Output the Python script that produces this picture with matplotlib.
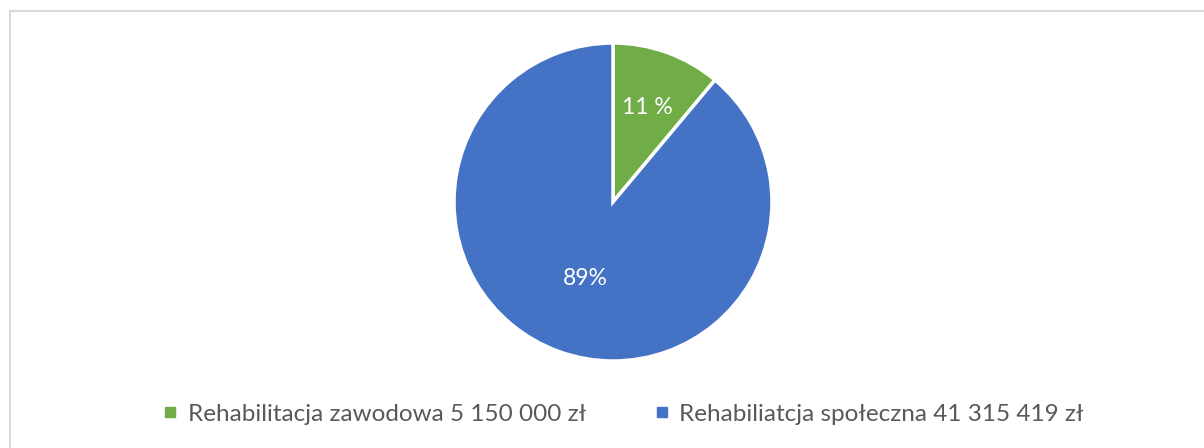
import numpy as np
import matplotlib
matplotlib.use("Agg")
import matplotlib.pyplot as plt
from matplotlib.patches import Rectangle
from matplotlib.lines import Line2D

categories = ["Rehabilitacja zawodowa 5 150 000 zł", "Rehabiliatcja społeczna 41 315 419 zł"]
values = [5150000, 41315419]
colors = ["#70AD47", "#4472C4"]
pct_formats = ["{:.0f} %", "{:.0f}%"]

plt.rcParams['font.family'] = ['Lato', 'DejaVu Sans']

W, H = 1204, 448
fig = plt.figure(figsize=(W / 100, H / 100), dpi=100)
fig.patch.set_facecolor("white")

# chart area border
fig.patches.append(Rectangle((10 / W, -0.1), 1.2, (H - 11) / H + 0.1, transform=fig.transFigure,
                             fill=False, edgecolor="#D9D9D9", linewidth=1.5))

cx, cy, r = 613, 202, 159
ax = fig.add_axes([(cx - r) / W, (H - cy - r) / H, 2 * r / W, 2 * r / H])
wedges, _ = ax.pie(values, colors=colors, startangle=90, counterclock=False,
                   wedgeprops=dict(edgecolor="white", linewidth=2.5))
ax.set_xlim(-1, 1)
ax.set_ylim(-1, 1)
ax.set_aspect("equal")
ax.axis("off")

total = sum(values)
dists = [0.63, 0.51]
for w, v, fmt, d in zip(wedges, values, pct_formats, dists):
    ang = np.deg2rad((w.theta1 + w.theta2) / 2)
    ax.text(d * np.cos(ang), d * np.sin(ang), fmt.format(100 * v / total),
            ha="center", va="center", color="white", fontsize=16.5)

handles = [Line2D([], [], marker="s", linestyle="none", markersize=7,
                  markerfacecolor=c, markeredgecolor=c) for c in colors]
leg = fig.legend(handles, categories, loc="center", bbox_to_anchor=(624 / W, 1 - 414 / H),
                 ncol=2, frameon=False, fontsize=17.5, handlelength=0.5, handletextpad=0.45,
                 columnspacing=2.9, labelcolor="#595959")

fig.savefig("out.png", dpi=100, facecolor="white")
